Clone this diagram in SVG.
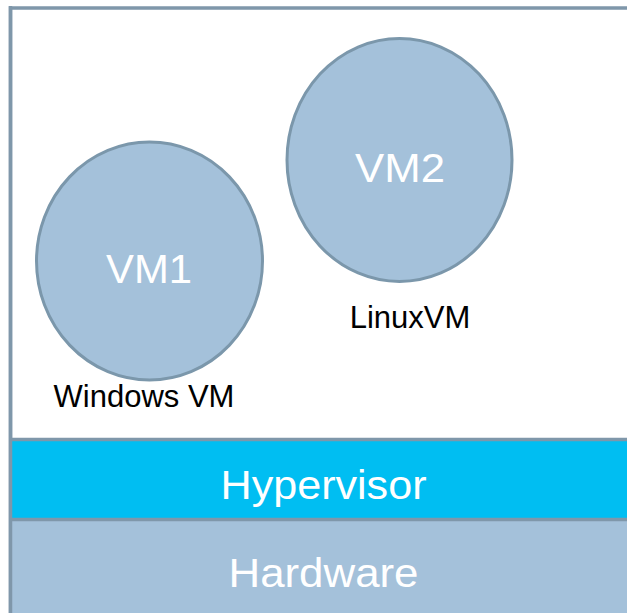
<svg xmlns="http://www.w3.org/2000/svg" width="627" height="613" viewBox="0 0 627 613">
<style>
.vm{fill:#a4c1da;stroke:#7b97ab;stroke-width:3}
.wt{fill:#ffffff;font-family:"Liberation Sans",Arial,sans-serif;text-anchor:middle}
.bt{fill:#000000;font-family:"Liberation Sans",Arial,sans-serif;font-size:31px;text-anchor:middle}
.ln{stroke:#7f97aa;stroke-width:3.5;fill:none}
</style>
<rect x="0" y="0" width="627" height="613" fill="#ffffff"/>
<g id="frame">
<rect x="10.5" y="8" width="640" height="640" fill="#ffffff" class="ln"/>
</g>
<g id="hardware">
<rect x="12" y="520" width="615" height="93" fill="#a4c1da"/>
<text class="wt" x="323.5" y="587" font-size="41" textLength="190" lengthAdjust="spacingAndGlyphs">Hardware</text>
</g>
<g id="hypervisor">
<rect x="12" y="441" width="615" height="77" fill="#00bef2"/>
<text class="wt" x="323.5" y="499" font-size="41" textLength="206" lengthAdjust="spacingAndGlyphs">Hypervisor</text>
</g>
<g id="connectors">
<line class="ln" x1="10.5" y1="439.5" x2="627" y2="439.5"/>
<line class="ln" x1="10.5" y1="519.5" x2="627" y2="519.5"/>
<line class="ln" x1="10.5" y1="6" x2="10.5" y2="613"/>
</g>
<g id="vm1">
<ellipse class="vm" cx="149.5" cy="261" rx="113" ry="119"/>
<text class="wt" x="149" y="283" font-size="40" textLength="86" lengthAdjust="spacingAndGlyphs">VM1</text>
<text class="bt" x="144" y="407">Windows VM</text>
</g>
<g id="vm2">
<ellipse class="vm" cx="399.5" cy="160" rx="112.5" ry="121.5"/>
<text class="wt" x="400" y="182" font-size="40" textLength="90" lengthAdjust="spacingAndGlyphs">VM2</text>
<text class="bt" x="410" y="328">LinuxVM</text>
</g>
</svg>
